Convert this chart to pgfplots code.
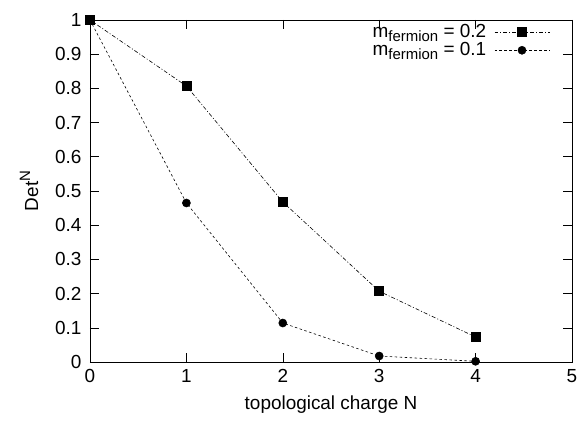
\documentclass[border=0pt]{standalone}
\usepackage{pgfplots}
\pgfplotsset{compat=1.18}
\usepackage{fontspec}
\setmainfont{Liberation Sans}
\newcommand{\mysub}[1]{\raisebox{-4.5bp}{\fontsize{15}{15}\selectfont #1}}
\newcommand{\mysup}[1]{\raisebox{8bp}{\fontsize{15}{15}\selectfont #1}}
\begin{document}
\fontsize{19}{22}\selectfont
\begin{tikzpicture}
\path[use as bounding box] (-90bp,-60bp) rectangle (488bp,362bp);
\begin{axis}[
  at={(0,0)}, anchor=origin,
  scale only axis, width=482bp, height=342bp,
  xmin=0, xmax=5, ymin=0, ymax=1,
  xtick={0,1,2,3,4,5},
  ytick={0,0.1,0.2,0.3,0.4,0.5,0.6,0.7,0.8,0.9,1},
  yticklabels={0,0.1,0.2,0.3,0.4,0.5,0.6,0.7,0.8,0.9,1},
  /pgf/number format/assume math mode=true,
  tick style={black, line width=0.6pt},
  major tick length=9bp,
  tick align=inside,
  axis line style={line width=0.8pt},
  xlabel={topological charge N},
  ylabel={Det\mysup{N}},
  xticklabel style={yshift=-1bp},
  yticklabel style={xshift=-2bp},
  xlabel style={yshift=0bp},
  ylabel style={yshift=4bp},
  tick label style={font=\fontsize{19}{22}\selectfont},
  label style={font=\fontsize{19}{22}\selectfont},
  legend style={draw=none, fill=none, at={(rel axis cs:1,1)}, anchor=north east,
    xshift=-22bp, yshift=-3bp,
    font=\fontsize{19}{20}\selectfont, row sep=0bp, column sep=7bp, inner sep=0bp,
    nodes={inner sep=1bp}},
  legend plot pos=right,
  legend cell align=right,
  legend image code/.code={\draw[mark repeat=2,mark phase=2] plot coordinates {(0bp,0bp) (27.5bp,0bp) (55bp,0bp)};},
]
\addplot[black, line width=0.6pt, dash pattern=on 4pt off 2pt on 1pt off 2pt,
  mark=square*, mark size=4.5bp, mark options={solid}]
  coordinates {(0,1) (1,0.807) (2,0.468) (3,0.207) (4,0.073)};
\addlegendentry{m\mysub{fermion} = 0.2}
\addplot[black, line width=0.6pt, dash pattern=on 2.5pt off 2.5pt,
  mark=*, mark size=4bp, mark options={solid}]
  coordinates {(0,1) (1,0.465) (2,0.114) (3,0.0175) (4,0.002)};
\addlegendentry{m\mysub{fermion} = 0.1}
\end{axis}
\end{tikzpicture}
\end{document}
